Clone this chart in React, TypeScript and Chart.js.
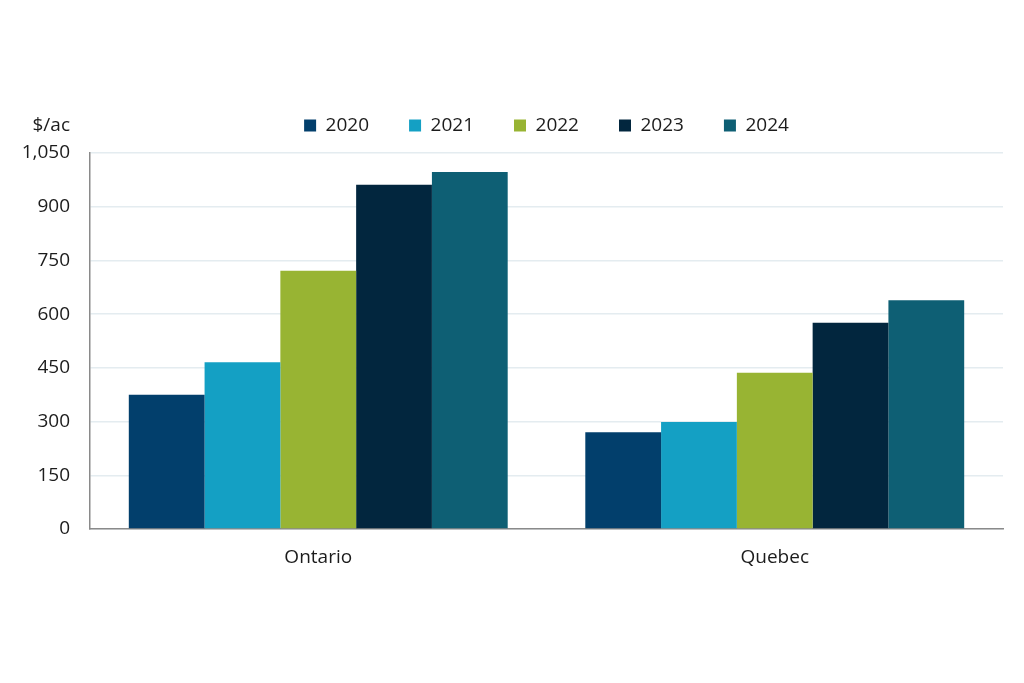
import React, { useEffect, useRef } from "react";
import { Chart, registerables } from "chart.js";

Chart.register(...registerables);

const categories = ["Ontario", "Quebec"];
const seriesLabels = ["2020", "2021", "2022", "2023", "2024"];
const values2020 = [375, 270];
const values2021 = [466, 299];
const values2022 = [721, 436];
const values2023 = [961, 576];
const values2024 = [997, 639];
const yTicks = [0, 150, 300, 450, 600, 750, 900, 1050];
const unitLabel = "$/ac";
const seriesColors = ["#023F6C", "#14A0C4", "#98B433", "#02263E", "#0E5F74"];

const FONT = "'Open Sans', 'Noto Sans', sans-serif";
const TEXT = "#1c1c1c";

export default function App() {
  const ref = useRef<HTMLCanvasElement | null>(null);

  useEffect(() => {
    if (!ref.current) return;
    const seriesValues = [values2020, values2021, values2022, values2023, values2024];

    const tweak = {
      id: "tweak",
      afterLayout(chart: any) {
        const lg = chart.legend;
        const ca = chart.chartArea;
        if (lg && ca) {
          const dx = (ca.left + ca.right) / 2 - (lg.left + lg.right) / 2;
          lg.left += dx;
          lg.right += dx;
          lg.top -= 8;
          lg.bottom -= 8;
        }
      },
      afterDraw(chart: any) {
        const ctx = chart.ctx;
        const y = chart.scales.y;
        const lg = chart.legend;
        const cy = lg.top + lg.options.labels.padding + 19 / 2;
        ctx.save();
        ctx.font = `19px ${FONT}`;
        ctx.fillStyle = TEXT;
        ctx.textAlign = "right";
        ctx.textBaseline = "middle";
        ctx.fillText(unitLabel, y.right - 20, cy);
        ctx.restore();
      },
    };

    const chart = new Chart(ref.current, {
      type: "bar",
      data: {
        labels: categories,
        datasets: seriesLabels.map((label, i) => ({
          label,
          data: seriesValues[i],
          backgroundColor: seriesColors[i],
          borderWidth: 0,
          barPercentage: 1,
          categoryPercentage: 0.83,
        })),
      },
      options: {
        animation: false,
        responsive: true,
        maintainAspectRatio: false,
        layout: { padding: { top: 84, left: 0, right: 21, bottom: 0 } },
        plugins: {
          legend: {
            position: "top",
            labels: {
              boxWidth: 12,
              boxHeight: 12,
              padding: 40,
              color: TEXT,
              font: { family: FONT, size: 19 },
            },
          },
          tooltip: { enabled: false },
        },
        scales: {
          x: {
            grid: { display: false, drawTicks: false },
            border: { display: true, color: "#8a8a8a", width: 1.5 },
            ticks: { color: TEXT, font: { family: FONT, size: 19 }, padding: 17 },
            afterFit(scale: any) {
              scale.height = 154;
            },
          },
          y: {
            min: 0,
            max: 1050,
            afterBuildTicks(scale: any) {
              scale.ticks = yTicks.map((v) => ({ value: v }));
            },
            grid: { color: "#e4ecf0", lineWidth: 1.5, drawTicks: false },
            border: { display: true, color: "#8a8a8a", width: 1.5 },
            ticks: {
              color: TEXT,
              font: { family: FONT, size: 19 },
              padding: 20,
              callback: (v: any) => Number(v).toLocaleString("en-US"),
            },
            afterFit(scale: any) {
              scale.width = 90;
            },
          },
        },
      },
      plugins: [tweak],
    });

    return () => chart.destroy();
  }, []);

  return (
    <div
      style={{
        position: "fixed",
        left: 0,
        top: 0,
        width: 1024,
        height: 683,
        background: "#ffffff",
      }}
    >
      <canvas ref={ref} />
    </div>
  );
}
